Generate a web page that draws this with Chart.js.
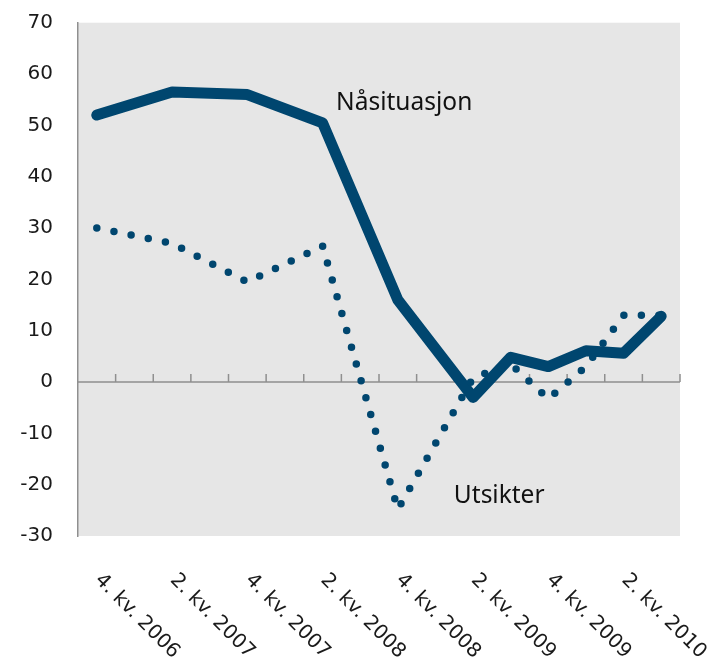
<!DOCTYPE html>
<html>
<head>
<meta charset="utf-8">
<script src="https://cdn.jsdelivr.net/npm/chart.js@4.4.1/dist/chart.umd.min.js"></script>
<style>
html,body{margin:0;padding:0;background:#fff;}
#wrap{width:718px;height:669px;position:relative;}
</style>
</head>
<body>
<div id="wrap"><canvas id="c" width="718" height="669"></canvas></div>
<script>
const categories = ['4. kv. 2006','1. kv. 2007','2. kv. 2007','3. kv. 2007','4. kv. 2007','1. kv. 2008','2. kv. 2008','3. kv. 2008','4. kv. 2008','1. kv. 2009','2. kv. 2009','3. kv. 2009','4. kv. 2009','1. kv. 2010','2. kv. 2010','3. kv. 2010'];
const naasituasjon = [52, null, 56.5, null, 56, null, 50.5, null, 16, null, -3, 4.8, 3, 6.1, 5.6, 12.8];
const utsikter = [30, null, 27, null, 19.5, null, 26.5, null, -24.8, null, 0.8, 3.5, -3.3, 3, 13, 13];
const xTickLabels = ['4. kv. 2006','2. kv. 2007','4. kv. 2007','2. kv. 2008','4. kv. 2008','2. kv. 2009','4. kv. 2009','2. kv. 2010'];
const yTicks = [-30,-20,-10,0,10,20,30,40,50,60,70];
const annotations = [
  {text: 'Nåsituasjon', x: 6.36, y: 53.0},
  {text: 'Utsikter', x: 9.49, y: -23.6}
];

const navy = '#00466f';

const decor = {
  id: 'decor',
  beforeDraw(chart) {
    const {ctx, chartArea: a} = chart;
    ctx.save();
    ctx.fillStyle = '#e6e6e6';
    ctx.fillRect(a.left, a.top, a.right - a.left, a.bottom - a.top);
    ctx.restore();
  },
  beforeDatasetsDraw(chart) {
    const {ctx, chartArea: a, scales: {x, y}} = chart;
    const y0 = y.getPixelForValue(0);
    ctx.save();
    ctx.strokeStyle = '#8f8f8f';
    ctx.lineWidth = 1.5;
    ctx.beginPath();
    ctx.moveTo(a.left, y0);
    ctx.lineTo(a.right, y0);
    for (let i = 1; i <= categories.length; i++) {
      const px = i < categories.length ? (x.getPixelForValue(i - 1) + x.getPixelForValue(i)) / 2 : a.right;
      ctx.moveTo(px, y0);
      ctx.lineTo(px, y0 - 8);
    }
    ctx.stroke();
    ctx.restore();
  },
  afterDraw(chart) {
    const {ctx, chartArea: a, scales: {x, y}} = chart;
    ctx.save();
    ctx.fillStyle = '#1a1a1a';
    ctx.font = '20px "DejaVu Sans"';
    ctx.textAlign = 'left';
    ctx.textBaseline = 'middle';
    xTickLabels.forEach(lbl => {
      const idx = categories.indexOf(lbl);
      const px = x.getPixelForValue(idx);
      ctx.save();
      ctx.translate(px + 1, a.bottom + 41);
      ctx.rotate(Math.PI / 4);
      ctx.fillText(lbl, 0, 0);
      ctx.restore();
    });
    ctx.font = '24.5px "Noto Sans"';
    ctx.textBaseline = 'alphabetic';
    ctx.fillStyle = '#111';
    annotations.forEach(an => {
      ctx.fillText(an.text, x.getPixelForValue(an.x), y.getPixelForValue(an.y));
    });
    ctx.restore();
  }
};

new Chart(document.getElementById('c'), {
  type: 'line',
  data: {
    labels: categories,
    datasets: [
      {
        label: 'Utsikter',
        data: utsikter,
        borderColor: navy,
        borderWidth: 7.5,
        borderDash: [0, 17.5],
        borderCapStyle: 'round',
        borderJoinStyle: 'round',
        pointRadius: 0,
        tension: 0,
        spanGaps: true,
        fill: false
      },
      {
        label: 'Nåsituasjon',
        data: naasituasjon,
        borderColor: navy,
        borderWidth: 11,
        borderCapStyle: 'round',
        borderJoinStyle: 'round',
        pointRadius: 0,
        tension: 0,
        spanGaps: true,
        fill: false
      }
    ]
  },
  options: {
    responsive: false,
    animation: false,
    devicePixelRatio: 1,
    layout: {padding: {left: 0, right: 38, top: 22.7, bottom: 0}},
    plugins: {legend: {display: false}, tooltip: {enabled: false}},
    scales: {
      x: {
        offset: true,
        grid: {display: false, drawTicks: false},
        border: {display: false},
        ticks: {display: false},
        afterFit(s) { s.height = 133; }
      },
      y: {
        min: -30, max: 70,
        afterBuildTicks(s) { s.ticks = yTicks.map(v => ({value: v})); },
        grid: {display: false, drawTicks: true, tickLength: 25},
        border: {display: true, color: '#8f8f8f', width: 1.5},
        ticks: {
          padding: 0,
          color: '#1a1a1a',
          font: {family: '"DejaVu Sans"', size: 20}
        },
        afterFit(s) { s.width = 78; }
      }
    }
  },
  plugins: [decor]
});
</script>
</body>
</html>
